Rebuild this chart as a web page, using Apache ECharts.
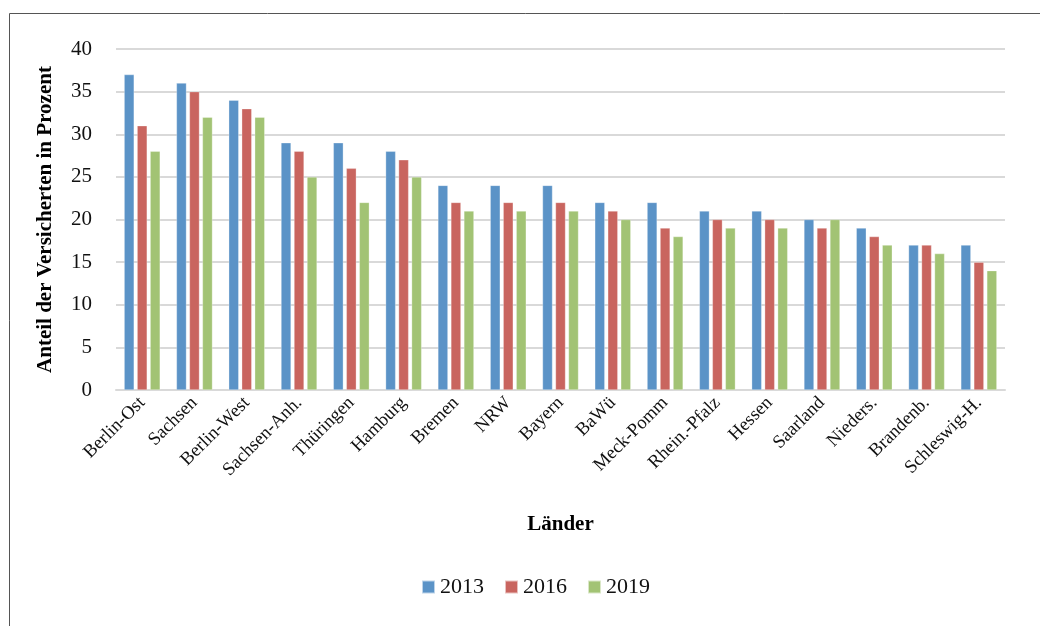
<!DOCTYPE html>
<html><head><meta charset="utf-8">
<script src="https://cdn.jsdelivr.net/npm/echarts@6/dist/echarts.min.js"></script>
<style>html,body{margin:0;padding:0;background:#fff}#c{width:1040px;height:626px}</style>
</head><body><div id="c"></div>
<script>
const categories = ['Berlin-Ost','Sachsen','Berlin-West','Sachsen-Anh.','Thüringen','Hamburg','Bremen','NRW','Bayern','BaWü','Meck-Pomm','Rhein.-Pfalz','Hessen','Saarland','Nieders.','Brandenb.','Schleswig-H.'];
const v2013 = [37,36,34,29,29,28,24,24,24,22,22,21,21,20,19,17,17];
const v2016 = [31,35,33,28,26,27,22,22,22,21,19,20,20,19,18,17,15];
const v2019 = [28,32,32,25,22,25,21,21,21,20,18,19,19,20,17,16,14];
const seriesNames = ['2013','2016','2019'];
const colors = ['#5b93c7','#c9655f','#a2c374'];
const font = '"Liberation Serif", serif';
const chart = echarts.init(document.getElementById('c'));
const mk = (name, data, i) => ({
  name, type:'bar', data, barWidth:10, barGap:'30%',
  itemStyle:{color:colors[i], borderColor:'rgba(255,255,255,0.6)', borderWidth:0.5}
});
chart.setOption({
  animation:false,
  graphic:[{type:'rect', shape:{x:9.5,y:13.5,width:1040,height:700}, style:{fill:'none', stroke:'#555', lineWidth:1}}],
  grid:{left:116, right:35, top:49, bottom:236},
  legend:{top:571, left:416, itemWidth:13, itemHeight:13, itemGap:20, icon:'rect',
    textStyle:{fontFamily:font, fontSize:22, color:'#111'}},
  xAxis:{type:'category', data:categories, name:'Länder', nameLocation:'middle', nameGap:124,
    nameTextStyle:{fontFamily:font, fontSize:21, fontWeight:'bold', color:'#000'},
    axisTick:{show:false}, axisLine:{lineStyle:{color:'#d9d9d9', width:2}},
    axisLabel:{rotate:45, interval:0, fontFamily:font, fontSize:18.5, color:'#111', margin:10}},
  yAxis:{type:'value', min:0, max:40, interval:5, name:'Anteil der Versicherten in Prozent',
    nameLocation:'middle', nameGap:60, nameRotate:90,
    nameTextStyle:{fontFamily:font, fontSize:21, fontWeight:'bold', color:'#000'},
    axisLabel:{fontFamily:font, fontSize:21, color:'#111', margin:24},
    axisLine:{show:false}, axisTick:{show:false},
    splitLine:{lineStyle:{color:'#d9d9d9', width:2}}},
  series:[mk(seriesNames[0],v2013,0), mk(seriesNames[1],v2016,1), mk(seriesNames[2],v2019,2)]
});
</script></body></html>
